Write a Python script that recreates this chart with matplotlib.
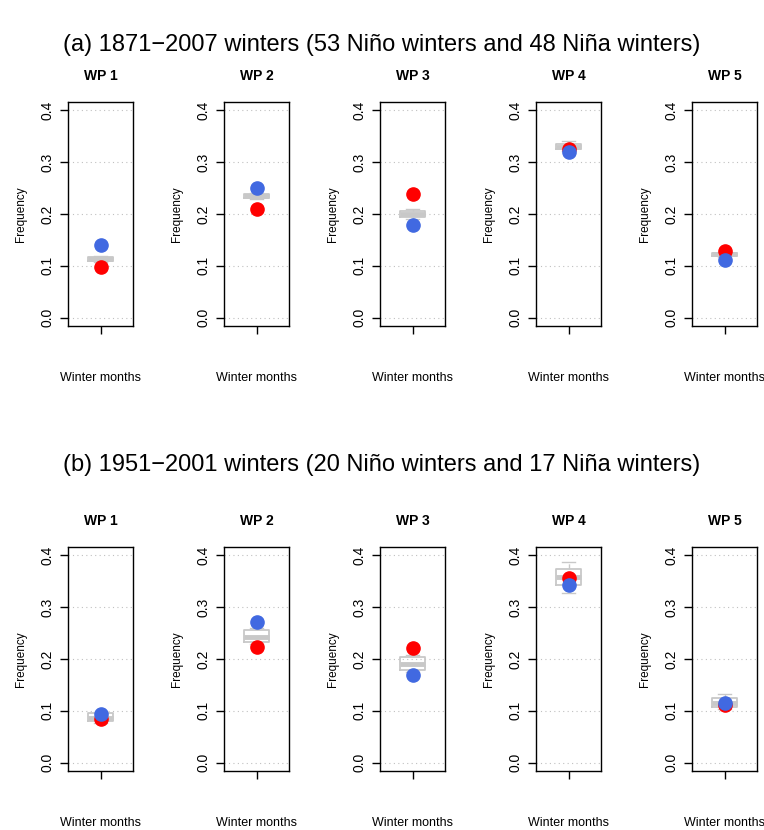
#!/usr/bin/env python3
"""
Weather-pattern frequencies in Nino / Nina winters, compared with the
distribution over all winter months (boxplots).
"""

import matplotlib
matplotlib.use("Agg")
import matplotlib.pyplot as plt

plt.rcParams['font.family'] = ['Liberation Sans', 'DejaVu Sans']

# Data
panels = ['WP 1', 'WP 2', 'WP 3', 'WP 4', 'WP 5']
titles = ['(a) 1871\u22122007 winters (53 Ni\u00f1o winters and 48 Ni\u00f1a winters)',
          '(b) 1951\u22122001 winters (20 Ni\u00f1o winters and 17 Ni\u00f1a winters)']

# period (a)
a_whislo = [0.107, 0.229, 0.191, 0.322, 0.117]
a_q1 = [0.109, 0.231, 0.194, 0.325, 0.119]
a_med = [0.113, 0.235, 0.200, 0.330, 0.122]
a_q3 = [0.117, 0.239, 0.206, 0.335, 0.125]
a_whishi = [0.119, 0.241, 0.210, 0.341, 0.127]
a_nino = [0.098, 0.209, 0.239, 0.325, 0.129]
a_nina = [0.140, 0.250, 0.179, 0.319, 0.111]

# period (b)
b_whislo = [0.077, 0.229, 0.175, 0.327, 0.103]
b_q1 = [0.080, 0.232, 0.178, 0.342, 0.107]
b_med = [0.087, 0.243, 0.190, 0.358, 0.116]
b_q3 = [0.095, 0.256, 0.204, 0.374, 0.124]
b_whishi = [0.098, 0.259, 0.207, 0.388, 0.132]
b_nino = [0.085, 0.223, 0.222, 0.357, 0.112]
b_nina = [0.094, 0.272, 0.170, 0.343, 0.116]

periods = [
    (a_whislo, a_q1, a_med, a_q3, a_whishi, a_nino, a_nina),
    (b_whislo, b_q1, b_med, b_q3, b_whishi, b_nino, b_nina),
]

W, H = 764, 830
fig = plt.figure(figsize=(W / 100, H / 100), dpi=100)

col_left = [68, 224, 380, 536, 692]
row_top = [102, 547]
ax_w, ax_h = 65, 224
title_y = [45, 465]

box_col = '#c8c8c8'

for r, (wlo, q1, med, q3, whi, nino, nina) in enumerate(periods):
    fig.text(0.5, 1 - title_y[r] / H, titles[r], ha='center', va='center', fontsize=17)
    for c, name in enumerate(panels):
        ax = fig.add_axes([col_left[c] / W, 1 - (row_top[r] + ax_h) / H, ax_w / W, ax_h / H])
        stats = [dict(med=med[c], q1=q1[c], q3=q3[c], whislo=wlo[c], whishi=whi[c], fliers=[])]
        ax.bxp(stats, positions=[1], widths=0.42, showfliers=False,
               boxprops=dict(color=box_col, lw=1.3),
               whiskerprops=dict(color=box_col, lw=1.0, linestyle='--'),
               capprops=dict(color=box_col, lw=1.0), capwidths=0.21,
               medianprops=dict(color=box_col, lw=3.5))
        ax.plot([1], [nino[c]], 'o', color='red', markersize=9.5, zorder=5)
        ax.plot([1], [nina[c]], 'o', color='#4169E1', markersize=9.5, zorder=6)

        for g in [0, 0.1, 0.2, 0.3, 0.4]:
            ax.axhline(g, color='#c0c0c0', lw=0.8, linestyle=(0, (1, 3)), zorder=0)

        ax.set_xlim(0.46, 1.54)
        ax.set_ylim(-0.016, 0.416)
        ax.set_yticks([0, 0.1, 0.2, 0.3, 0.4])
        ax.set_yticklabels(['0.0', '0.1', '0.2', '0.3', '0.4'], rotation=90, va='center', fontsize=10)
        ax.set_xticks([1])
        ax.set_xticklabels([''])
        ax.tick_params(length=6, width=1, direction='out', pad=4)
        for s in ax.spines.values():
            s.set_linewidth(1.0)
        ax.set_title(name, fontsize=10, fontweight='bold', pad=15.5)
        ax.set_ylabel('Frequency', fontsize=8.5, labelpad=9.5)
        ax.set_xlabel('Winter months', fontsize=9, labelpad=23)

fig.savefig('out.png', dpi=100)
